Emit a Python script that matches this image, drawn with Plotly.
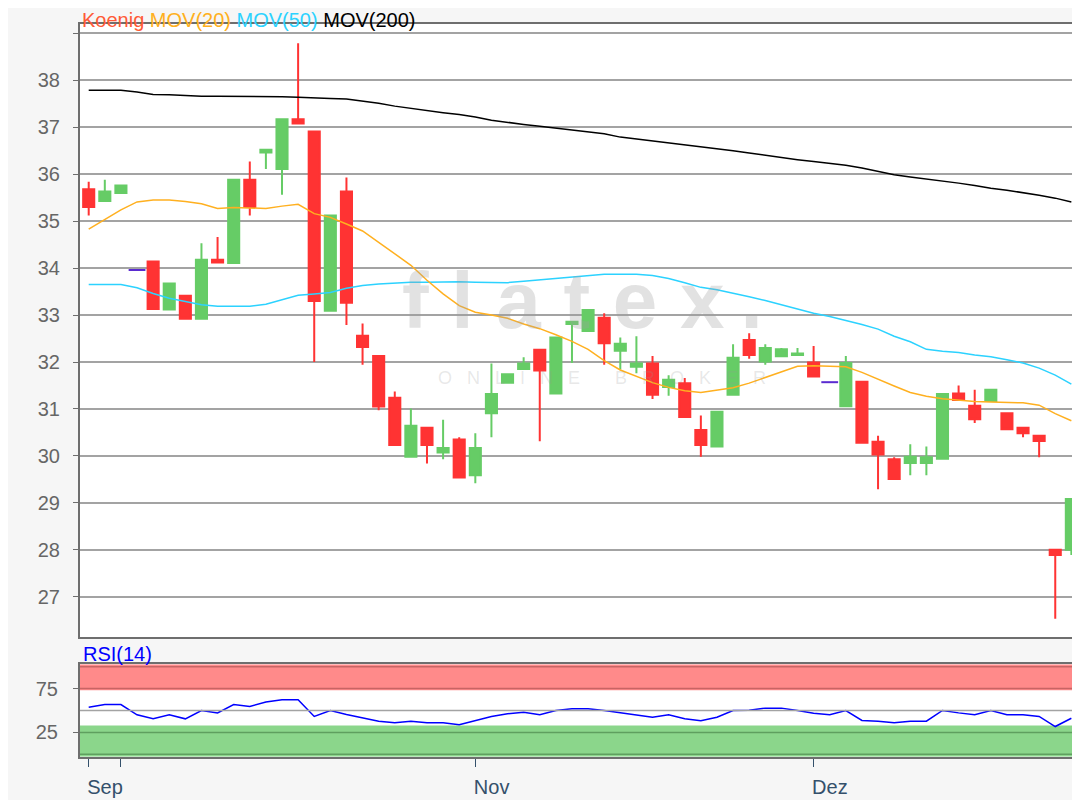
"""Koenig daily candles with MOV(20/50/200) and RSI(14) panel, flatex style."""
import plotly.graph_objects as go

# trading-day index on the x axis
day = list(range(62))
tick_pos = [0, 2, 24, 45]
tick_text = ["Sep", "", "Nov", "Dez"]
price_ticks = list(range(27, 40))
price_tick_text = [str(v) for v in range(27, 39)] + [""]

open_ = [35.68, 35.43, 35.60, 33.96, 34.14, 33.12, 33.41, 32.92, 34.18, 34.11,
         35.88, 36.46, 36.11, 37.17, 36.91, 33.09, 35.63, 32.56, 32.13, 31.24,
         29.98, 30.60, 30.07, 30.35, 29.59, 30.91, 31.56, 31.85, 32.26, 31.33,
         32.81, 32.66, 32.94, 32.24, 31.90, 31.97, 31.47, 31.55, 30.55, 30.20,
         31.30, 32.47, 32.01, 32.12, 32.15, 31.99, 31.57, 31.06, 31.58, 30.30,
         29.93, 29.85, 29.85, 29.94, 31.33, 31.07, 31.17, 30.91, 30.60, 30.43,
         28.00, 28.00]
high = [35.84, 35.88, 35.76, 33.96, 34.14, 33.67, 33.41, 34.53, 34.66, 35.88,
        36.27, 36.52, 37.17, 38.79, 36.91, 35.12, 35.93, 32.82, 32.13, 31.37,
        31.01, 30.60, 30.77, 30.40, 30.48, 31.97, 31.74, 32.10, 32.26, 32.52,
        32.86, 33.11, 33.04, 32.52, 32.55, 32.13, 31.72, 31.66, 30.86, 30.94,
        32.38, 32.61, 32.38, 32.30, 32.30, 32.34, 31.57, 32.13, 31.58, 30.43,
        29.97, 30.25, 30.20, 31.32, 31.50, 31.41, 31.41, 30.91, 30.60, 30.43,
        28.00, 29.08]
low = [35.12, 35.43, 35.60, 33.96, 33.13, 33.12, 32.92, 32.92, 34.12, 34.11,
       35.12, 36.11, 35.56, 37.08, 32.00, 33.09, 32.79, 31.94, 30.97, 30.23,
       29.98, 29.84, 29.93, 29.54, 29.42, 30.40, 31.56, 31.85, 30.31, 31.33,
       31.98, 32.66, 31.94, 31.84, 31.76, 31.21, 31.28, 30.83, 29.98, 30.20,
       31.30, 32.07, 31.94, 32.12, 32.15, 31.69, 31.57, 31.06, 30.28, 29.29,
       29.51, 29.59, 29.59, 29.94, 31.19, 30.70, 31.17, 30.57, 30.40, 29.97,
       26.53, 27.89]
close = [35.30, 35.63, 35.76, 33.96, 33.13, 33.67, 32.92, 34.18, 34.12, 35.88,
         35.30, 36.52, 37.17, 37.08, 33.30, 35.12, 33.26, 32.32, 31.05, 30.23,
         30.64, 30.23, 30.17, 29.54, 30.17, 31.32, 31.74, 31.97, 31.82, 32.52,
         32.86, 33.11, 32.40, 32.39, 31.97, 31.30, 31.62, 30.83, 30.23, 30.94,
         32.09, 32.15, 32.30, 32.27, 32.18, 31.69, 31.57, 31.98, 30.28, 30.03,
         29.51, 29.98, 29.97, 31.32, 31.19, 30.78, 31.41, 30.57, 30.48, 30.32,
         27.89, 29.08]

mov20 = [34.83, 35.03, 35.24, 35.41, 35.45, 35.45, 35.42, 35.37, 35.27, 35.29,
         35.28, 35.27, 35.32, 35.36, 35.16, 35.08, 34.94, 34.79, 34.55, 34.30,
         34.06, 33.74, 33.45, 33.20, 33.06, 33.00, 32.93, 32.81, 32.71, 32.58,
         32.44, 32.27, 32.03, 31.83, 31.69, 31.56, 31.46, 31.39, 31.35, 31.40,
         31.45, 31.55, 31.67, 31.80, 31.91, 31.92, 31.91, 31.90, 31.78, 31.63,
         31.49, 31.35, 31.27, 31.22, 31.19, 31.16, 31.15, 31.14, 31.13, 31.08,
         30.90, 30.75]
mov50 = [33.65, 33.65, 33.65, 33.58, 33.46, 33.36, 33.29, 33.22, 33.19, 33.19,
         33.19, 33.23, 33.32, 33.42, 33.45, 33.48, 33.57, 33.63, 33.66, 33.68,
         33.70, 33.70, 33.71, 33.71, 33.70, 33.69, 33.69, 33.72, 33.75, 33.79,
         33.82, 33.85, 33.87, 33.87, 33.87, 33.84, 33.78, 33.69, 33.59, 33.54,
         33.47, 33.39, 33.31, 33.22, 33.14, 33.04, 32.97, 32.89, 32.80, 32.70,
         32.55, 32.43, 32.27, 32.23, 32.20, 32.15, 32.11, 32.05, 31.98, 31.87,
         31.72, 31.53]
mov200 = [37.79, 37.79, 37.79, 37.75, 37.70, 37.69, 37.67, 37.66, 37.66, 37.66,
          37.65, 37.65, 37.65, 37.64, 37.62, 37.61, 37.60, 37.56, 37.51, 37.45,
          37.40, 37.36, 37.31, 37.27, 37.22, 37.15, 37.10, 37.06, 37.02, 36.98,
          36.94, 36.90, 36.86, 36.79, 36.75, 36.71, 36.67, 36.62, 36.58, 36.54,
          36.50, 36.45, 36.40, 36.36, 36.31, 36.27, 36.23, 36.19, 36.13, 36.06,
          35.99, 35.94, 35.90, 35.86, 35.81, 35.76, 35.70, 35.66, 35.61, 35.55,
          35.49, 35.41]

rsi = [53.8, 56.8, 56.8, 45.1, 40.5, 45.1, 40.5, 50.0, 47.3, 56.8,
       54.6, 59.6, 62.2, 62.2, 43.2, 50.0, 45.4, 41.2, 37.8, 35.9,
       37.6, 36.0, 36.0, 33.7, 38.6, 43.2, 46.2, 48.1, 45.1, 50.0,
       51.9, 51.9, 50.0, 47.3, 45.1, 42.4, 45.1, 40.5, 38.2, 42.4,
       50.0, 50.4, 52.7, 52.7, 50.0, 46.9, 45.1, 50.0, 38.6, 37.8,
       36.0, 37.8, 37.8, 50.0, 47.3, 45.1, 50.0, 45.1, 45.1, 43.2,
       31.7, 41.2]
rsi_overbought = [73, 102.7]   # red zone
rsi_oversold = [-2.7, 33]      # green zone

UP = "#66cc66"
DOWN = "#ff3333"
FLAT = "#5a2bd0"
FRAME = "#6e6e6e"
GRID = "#a3a3a3"
FONT = "Liberation Sans, Arial, sans-serif"

# the page puts the figure 8px in from the window edge
W, H = 1072, 792


def px_x(x):
    return (x - 8) / W


def px_y(y):
    return 1 - (y - 8) / H


# days without movement (o == h == l == c) are drawn as a flat dash
moving = [i for i in day if not (open_[i] == high[i] == low[i] == close[i])]
flat = [i for i in day if i not in moving]

fig = go.Figure()

fig.add_trace(go.Candlestick(
    x=[day[i] for i in moving],
    open=[open_[i] for i in moving], high=[high[i] for i in moving],
    low=[low[i] for i in moving], close=[close[i] for i in moving],
    increasing=dict(line=dict(color=UP, width=2), fillcolor=UP),
    decreasing=dict(line=dict(color=DOWN, width=2), fillcolor=DOWN),
    whiskerwidth=0, showlegend=False, xaxis="x", yaxis="y",
))
fig.add_trace(go.Scatter(
    x=[day[i] for i in flat], y=[close[i] for i in flat], mode="markers",
    marker=dict(symbol="line-ew", size=12, line=dict(color=FLAT, width=2)),
    showlegend=False, xaxis="x", yaxis="y",
))
for ys, col in [(mov200, "#000000"), (mov50, "#2cd2ff"), (mov20, "#ffb020")]:
    fig.add_trace(go.Scatter(x=day, y=ys, mode="lines",
                             line=dict(color=col, width=1.5),
                             showlegend=False, xaxis="x", yaxis="y"))

fig.add_trace(go.Scatter(x=day, y=rsi, mode="lines",
                         line=dict(color="#0000ff", width=1.5),
                         showlegend=False, xaxis="x2", yaxis="y2"))

# RSI zones and reference levels
fig.add_shape(type="rect", xref="x2 domain", yref="y2", x0=0, x1=1,
              y0=rsi_overbought[0], y1=rsi_overbought[1],
              fillcolor="#ff8a8a", line_width=0, layer="below")
fig.add_shape(type="rect", xref="x2 domain", yref="y2", x0=0, x1=1,
              y0=rsi_oversold[0], y1=rsi_oversold[1],
              fillcolor="#8bd68b", line_width=0, layer="below")
for lvl, col in [(100, "#c86464"), (75, "#c86464"), (50, GRID),
                 (25, "#5f9f5f"), (0, "#5f9f5f")]:
    fig.add_shape(type="line", xref="x2 domain", yref="y2", x0=0, x1=1,
                  y0=lvl, y1=lvl, line=dict(color=col, width=1.5))

# watermark
fig.add_annotation(
    text="<b>f\u2009\u200al\u2009\u200aa\u2009\u200at\u2009\u200ae\u2009\u200ax\u2009.</b>",
    xref="paper", yref="paper", x=px_x(582), y=px_y(300), showarrow=False,
    font=dict(size=80, color="rgba(160,160,160,0.3)", family=FONT))
fig.add_annotation(
    text="\u00a0\u00a0\u00a0".join("ONLINE") + "\u00a0" * 7
         + "\u00a0\u00a0\u00a0".join("BROKER"),
    xref="paper", yref="paper", x=px_x(602), y=px_y(378), showarrow=False,
    font=dict(size=18, color="rgba(150,150,150,0.22)", family=FONT))

# chart titles
fig.add_annotation(
    text="<span style='color:#ff5a36'>Koenig</span> "
         "<span style='color:#ffb020'>MOV(20)</span> "
         "<span style='color:#2cd2ff'>MOV(50)</span> "
         "<span style='color:#000000'>MOV(200)</span>",
    xref="paper", yref="paper", x=px_x(81), y=1, xanchor="left",
    yanchor="top", borderpad=0, showarrow=False,
    font=dict(size=20, family=FONT))
fig.add_annotation(
    text="RSI(14)", xref="paper", yref="paper", x=px_x(81), y=px_y(667),
    xanchor="left", yanchor="bottom", showarrow=False,
    font=dict(size=20, family=FONT, color="#0000ff"))

x_range = [-0.54, 61.35]
x_dom = [px_x(80), px_x(1077)]
fig.update_layout(
    width=W, height=H,
    margin=dict(l=0, r=0, t=0, b=0),
    paper_bgcolor="#f6f6f6", plot_bgcolor="#ffffff",
    font=dict(family=FONT, size=20, color="#666666"),
    boxgap=0.17, boxgroupgap=0.17,
    xaxis=dict(domain=x_dom, anchor="y", range=x_range,
               automargin=False, showgrid=False, zeroline=False,
               showticklabels=False, showline=True, mirror=True,
               linecolor=FRAME, linewidth=2, rangeslider=dict(visible=False)),
    yaxis=dict(domain=[px_y(637), px_y(24)], anchor="x",
               range=[26.143, 39.199], automargin=False, tickmode="array",
               tickvals=price_ticks, ticktext=price_tick_text, showgrid=True,
               gridcolor=GRID, gridwidth=1.5, zeroline=False, showline=True,
               mirror=True, linecolor=FRAME, linewidth=2, ticks="outside",
               ticklen=5, tickcolor=FRAME, ticklabelstandoff=9,
               tickfont=dict(color="#666666", size=20)),
    xaxis2=dict(domain=x_dom, anchor="y2", range=x_range,
                automargin=False, showgrid=False, zeroline=False,
                showline=True, mirror=True, linecolor=FRAME, linewidth=2,
                tickmode="array", tickvals=tick_pos, ticktext=tick_text,
                ticks="outside", ticklen=8, tickcolor="#34506b",
                ticklabelposition="outside right", ticklabelshift=-3,
                ticklabelstandoff=11,
                tickfont=dict(color="#34506b", size=20)),
    yaxis2=dict(domain=[px_y(756.7), px_y(664.3)], anchor="x2",
                range=[-2.7, 102.7], automargin=False, tickmode="array",
                tickvals=[25, 75], showgrid=False, zeroline=False,
                showline=True, mirror=True, linecolor=FRAME, linewidth=2,
                ticks="outside", ticklen=5, tickcolor=FRAME,
                ticklabelstandoff=11, tickfont=dict(color="#666666", size=20)),
)

fig.write_html("out.html")
